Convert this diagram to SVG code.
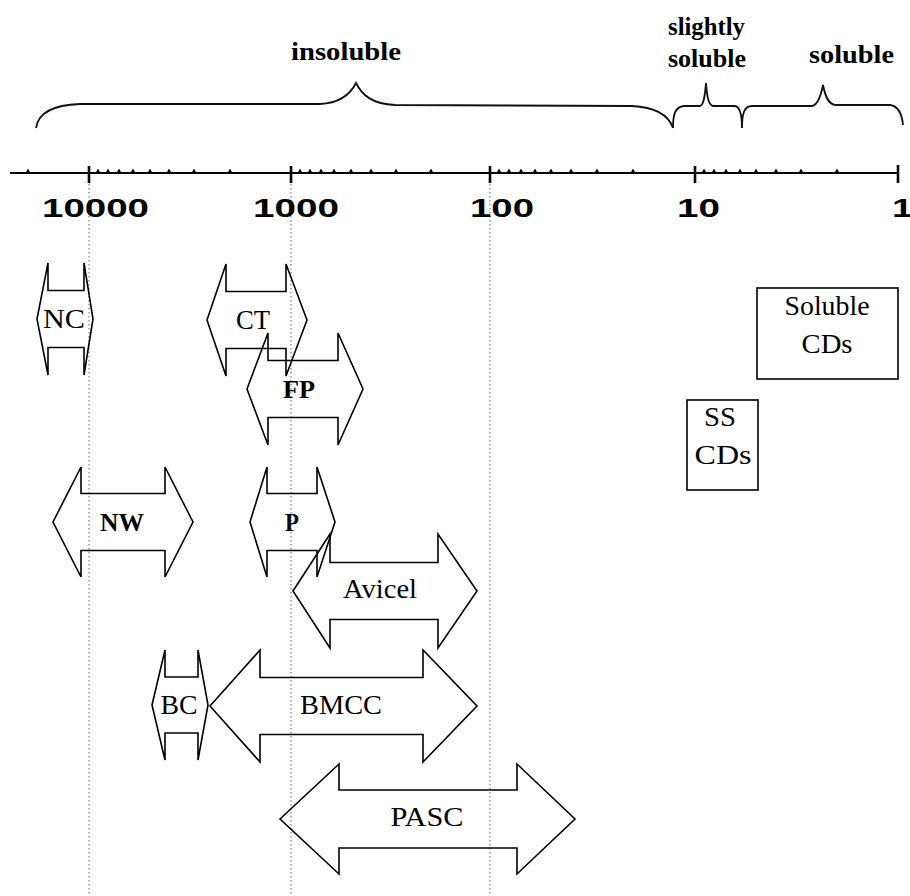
<svg xmlns="http://www.w3.org/2000/svg" width="910" height="896" viewBox="0 0 910 896">
<style>
.grid{stroke:#8a8a8a;stroke-width:1.3;stroke-dasharray:1.5 2.5;fill:none}
.axis{stroke:#000;stroke-width:2;fill:none}
.maj{stroke:#000;stroke-width:2.6}
.brace{stroke:#111;stroke-width:1.8;fill:none}
.arrow{fill:none;stroke:#000;stroke-width:1.6;stroke-linejoin:miter}
.box{fill:none;stroke:#000;stroke-width:1.6}
.num{font-family:"Liberation Sans",Arial,sans-serif;font-weight:bold;font-size:25px;fill:#000}
.brl{font-family:"Liberation Serif","Times New Roman",serif;font-weight:bold;font-size:26px;fill:#000}
.lbl{font-family:"Liberation Serif","Times New Roman",serif;font-size:28px;fill:#000;text-anchor:middle}
.lblb{font-family:"Liberation Serif","Times New Roman",serif;font-size:26px;font-weight:bold;fill:#000;text-anchor:middle}
</style>
<defs>
<path id="tri" d="M-2.5,0 L0,-4.5 L2.5,0 Z" fill="#000"/>
</defs>
<rect width="910" height="896" fill="#fff"/>

<g id="gridlines">
<line class="grid" x1="89" y1="180" x2="89" y2="896"/>
<line class="grid" x1="291" y1="180" x2="291" y2="896"/>
<line class="grid" x1="490" y1="180" x2="490" y2="896"/>
</g>

<g id="braces">
<path class="brace" d="M36,128 C38,114 50,105 80,104 L320,104 C340,103 350,95 356,83 C362,95 372,104 395,105 L632,106 C655,107 668,114 673,128"/>
<path class="brace" d="M673,128 C673,114 675,107 684,106 L700,106 C704,105 705,95 706,83 C707,95 708,105 713,106 L735,106 C740,107 742,114 742,128"/>
<path class="brace" d="M742,128 C742,114 744,106 752,106 L812,106 C818,105 821,95 823,85 C825,95 828,105 836,105 L890,105 C898,106 902,114 903,125"/>
<text class="brl" x="291" y="60" textLength="110" lengthAdjust="spacingAndGlyphs">insoluble</text>
<text class="brl" x="668" y="35" textLength="77" lengthAdjust="spacingAndGlyphs">slightly</text>
<text class="brl" x="668" y="67" textLength="78" lengthAdjust="spacingAndGlyphs">soluble</text>
<text class="brl" x="809" y="63" textLength="85" lengthAdjust="spacingAndGlyphs">soluble</text>
</g>

<g id="axis">
<line class="axis" x1="10" y1="173" x2="898" y2="173"/>
<line class="maj" x1="89" y1="166" x2="89" y2="183"/>
<line class="maj" x1="291" y1="166" x2="291" y2="183"/>
<line class="maj" x1="490" y1="166" x2="490" y2="183"/>
<line class="maj" x1="695" y1="166" x2="695" y2="183"/>
<line class="maj" x1="898" y1="165" x2="898" y2="183"/>
<use href="#tri" x="28" y="173"/>
<use href="#tri" x="98" y="173"/><use href="#tri" x="108" y="173"/><use href="#tri" x="119" y="173"/><use href="#tri" x="133" y="173"/><use href="#tri" x="150" y="173"/><use href="#tri" x="169" y="173"/><use href="#tri" x="194" y="173"/><use href="#tri" x="230" y="173"/>
<use href="#tri" x="300" y="173"/><use href="#tri" x="310" y="173"/><use href="#tri" x="321" y="173"/><use href="#tri" x="334" y="173"/><use href="#tri" x="351" y="173"/><use href="#tri" x="371" y="173"/><use href="#tri" x="396" y="173"/><use href="#tri" x="431" y="173"/>
<use href="#tri" x="499" y="173"/><use href="#tri" x="509" y="173"/><use href="#tri" x="521" y="173"/><use href="#tri" x="535" y="173"/><use href="#tri" x="551" y="173"/><use href="#tri" x="571" y="173"/><use href="#tri" x="597" y="173"/><use href="#tri" x="633" y="173"/>
<use href="#tri" x="704" y="173"/><use href="#tri" x="714" y="173"/><use href="#tri" x="726" y="173"/><use href="#tri" x="740" y="173"/><use href="#tri" x="756" y="173"/><use href="#tri" x="776" y="173"/><use href="#tri" x="801" y="173"/><use href="#tri" x="837" y="173"/>
<text class="num" x="42" y="217" textLength="107" lengthAdjust="spacingAndGlyphs">10000</text>
<text class="num" x="253" y="217" textLength="86" lengthAdjust="spacingAndGlyphs">1000</text>
<text class="num" x="470" y="217" textLength="64" lengthAdjust="spacingAndGlyphs">100</text>
<text class="num" x="677" y="217" textLength="43" lengthAdjust="spacingAndGlyphs">10</text>
<text class="num" x="892" y="217" textLength="21" lengthAdjust="spacingAndGlyphs">1</text>
</g>

<g id="NC">
<polygon class="arrow" points="37,319 48,263 48,290.5 84,290.5 84,263 93,319 84,375 84,347.5 48,347.5 48,375"/>
<text class="lbl" x="64" y="328" textLength="42" lengthAdjust="spacingAndGlyphs">NC</text>
</g>
<g id="CT">
<polygon class="arrow" points="207,320 226,264 226,291.5 286,291.5 286,264 307,320 286,376 286,348.5 226,348.5 226,376"/>
<text class="lbl" x="253" y="329" textLength="34" lengthAdjust="spacingAndGlyphs">CT</text>
</g>
<g id="FP">
<polygon class="arrow" points="247,389 268,333 268,360.5 338,360.5 338,333 363,389 338,445 338,417.5 268,417.5 268,445"/>
<text class="lblb" x="299" y="398" textLength="32" lengthAdjust="spacingAndGlyphs">FP</text>
</g>
<g id="NW">
<polygon class="arrow" points="53,522 81,467 81,493.5 165,493.5 165,467 193,522 165,577 165,550.5 81,550.5 81,577"/>
<text class="lblb" x="122" y="531" textLength="44" lengthAdjust="spacingAndGlyphs">NW</text>
</g>
<g id="P">
<polygon class="arrow" points="250,522 267,467 267,493.5 317,493.5 317,467 335,522 317,577 317,550.5 267,550.5 267,577"/>
<text class="lblb" x="292" y="531" textLength="14" lengthAdjust="spacingAndGlyphs">P</text>
</g>
<g id="Avicel">
<polygon class="arrow" points="293,591 330,534 330,562.5 438,562.5 438,534 477,591 438,648 438,619.5 330,619.5 330,648"/>
<text class="lbl" x="380" y="598" textLength="74" lengthAdjust="spacingAndGlyphs">Avicel</text>
</g>
<g id="BC">
<polygon class="arrow" points="152,705 165,650 165,677 198,677 198,650 208,705 198,760 198,733 165,733 165,760"/>
<text class="lbl" x="179" y="714" textLength="37" lengthAdjust="spacingAndGlyphs">BC</text>
</g>
<g id="BMCC">
<polygon class="arrow" points="210,706 260,650 260,677.5 423,677.5 423,650 477,706 423,762 423,734.5 260,734.5 260,762"/>
<text class="lbl" x="341" y="714" textLength="82" lengthAdjust="spacingAndGlyphs">BMCC</text>
</g>
<g id="PASC">
<polygon class="arrow" points="280,819 339,764 339,790 517,790 517,764 575,819 517,874 517,848 339,848 339,874"/>
<text class="lbl" x="427" y="826" textLength="73" lengthAdjust="spacingAndGlyphs">PASC</text>
</g>
<g id="SolubleCDs">
<rect class="box" x="757" y="288" width="141" height="91"/>
<text class="lbl" x="827" y="315" textLength="85" lengthAdjust="spacingAndGlyphs">Soluble</text>
<text class="lbl" x="827" y="353" textLength="51" lengthAdjust="spacingAndGlyphs">CDs</text>
</g>
<g id="SSCDs">
<rect class="box" x="687" y="400" width="71" height="90"/>
<text class="lbl" x="720" y="426" textLength="32" lengthAdjust="spacingAndGlyphs">SS</text>
<text class="lbl" x="723" y="464" textLength="57" lengthAdjust="spacingAndGlyphs">CDs</text>
</g>
</svg>
